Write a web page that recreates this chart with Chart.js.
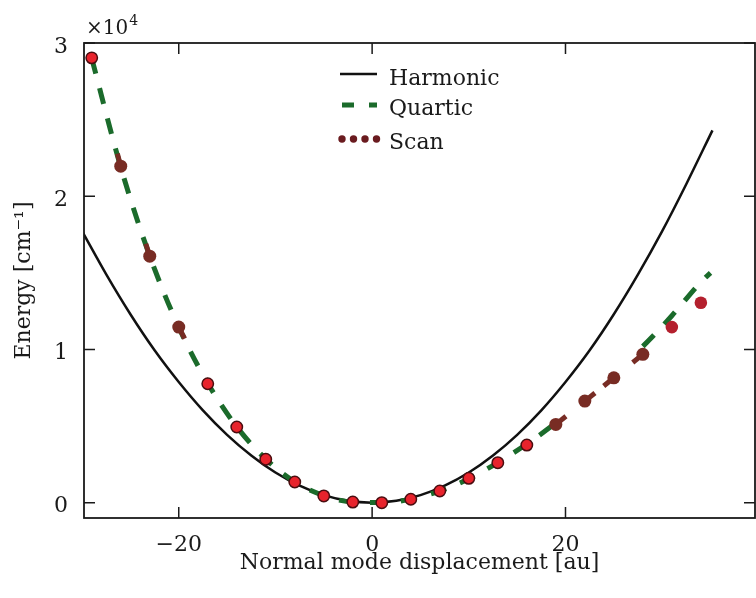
<!DOCTYPE html>
<html>
<head>
<meta charset="utf-8">
<script src="https://cdn.jsdelivr.net/npm/chart.js@4.4.1/dist/chart.umd.min.js"></script>
<style>
  html, body { margin: 0; padding: 0; background: #ffffff; overflow: hidden; }
  #wrap { width: 756px; height: 598px; }
</style>
</head>
<body>
<div id="wrap"><canvas id="c" width="756" height="598"></canvas></div>
<script>
// ---- data -------------------------------------------------------------
// harmonic potential, displacement [au] vs energy [cm^-1]
const harmonicX = [-30, -27.5, -25, -22.5, -20, -17.5, -15, -12.5, -10, -7.5, -5, -2.5, 0,
                   2.5, 5, 7.5, 10, 12.5, 15, 17.5, 20, 22.5, 25, 27.5, 30, 32.5, 35.2];
const harmonicE = [17720, 14900, 12300, 9950, 7880, 6030, 4430, 3080, 1970, 1110, 490, 120, 0,
                   120, 490, 1110, 1970, 3080, 4430, 6030, 7880, 9950, 12300, 14900, 17720, 20800, 24300];

// quartic fit
const quarticX = [-29, -26, -23, -20, -17, -14, -11, -8, -5, -2, 1, 4, 7, 10, 13, 16, 19, 22, 25, 28, 31, 34, 35];
const quarticE = [29000, 21900, 16100, 11450, 7800, 4950, 2850, 1350, 460, 40, 10, 230, 760, 1560,
                  2620, 3830, 5200, 6750, 8450, 10200, 12200, 14400, 15000];

// potential energy scan
const scanX = [-29, -26, -23, -20, -17, -14, -11, -8, -5, -2, 1, 4, 7, 10, 13, 16, 19, 22, 25, 28, 31, 34];
const scanE = [29030, 21960, 16090, 11460, 7760, 4940, 2830, 1350, 440, 40, 0, 220, 760, 1590,
               2610, 3760, 5110, 6630, 8150, 9680, 11460, 13050];

const xTickValues = [-20, 0, 20];
const yTickValues = [0, 10000, 20000, 30000];
const yTickLabels = ['0', '1', '2', '3'];

// ---- styling ----------------------------------------------------------
const FONT = 'DejaVu Serif';
const INK = '#1a1a1a';
const GREEN = '#1b6b2b';
const BROWN = '#782c24';
const MAROON = '#6a1b1f';
const NONE = 'rgba(0,0,0,0)';

// stretch of the quartic that lies under the scan strokes
const quarticHiddenFrom = 19, quarticHiddenTo = 28;

// marker look for each scan point: r = outlined red, b = brown, c = crimson
const scanMarker = ['r','b','b','b','r','r','r','r','r','r','r','r','r','r','r','r','b','b','b','b','c','c'];
// short trailing stroke on a marker: -1 toward previous point, +1 toward next, 0 none
const scanTail = [0,-1,-1,1,0,0,0,0,0,0,0,0,0,0,0,0,1,1,-1,-1,0,0];
const TAIL = 13;

const markerFill = { r: '#e8232c', b: BROWN, c: '#b4202e' };
const markerEdge = { r: '#4a0d10', b: BROWN, c: '#b4202e' };
const markerRadius = { r: 5.7, b: 6.5, c: 6.3 };
const markerEdgeW = { r: 1.5, b: 0, c: 0 };

const toXY = (xs, ys) => xs.map((x, i) => ({ x: x, y: ys[i] }));

function tailFlags(c) {
  return { s: scanTail[c.p0DataIndex] === 1, e: scanTail[c.p1DataIndex] === -1 };
}
function tailDash(c) {
  const L = Math.hypot(c.p1.x - c.p0.x, c.p1.y - c.p0.y);
  const f = tailFlags(c);
  if (f.s && f.e) return [TAIL, Math.max(L - 2 * TAIL, 0), TAIL, 2000];
  if (f.s) return [TAIL, L + 2000];
  if (f.e) return [0, Math.max(L - TAIL, 0), TAIL, 2000];
  return [0, L + 2000 + c.p0DataIndex];
}

// frame with inward ticks on all four sides
const framePlugin = {
  id: 'frame',
  afterDraw(chart) {
    const { ctx, chartArea: a, scales } = chart;
    const tl = 11;
    ctx.save();
    ctx.strokeStyle = INK;
    ctx.lineWidth = 1.5;
    ctx.beginPath();
    scales.x.ticks.forEach(t => {
      const px = scales.x.getPixelForValue(t.value);
      ctx.moveTo(px, a.bottom); ctx.lineTo(px, a.bottom - tl);
      ctx.moveTo(px, a.top); ctx.lineTo(px, a.top + tl);
    });
    scales.y.ticks.forEach(t => {
      const py = scales.y.getPixelForValue(t.value);
      ctx.moveTo(a.left, py); ctx.lineTo(a.left + tl, py);
      ctx.moveTo(a.right, py); ctx.lineTo(a.right - tl, py);
    });
    ctx.stroke();
    ctx.lineWidth = 1.8;
    ctx.strokeRect(a.left, a.top, a.right - a.left, a.bottom - a.top);

    // axis multiplier
    ctx.fillStyle = INK;
    ctx.textBaseline = 'alphabetic';
    ctx.textAlign = 'left';
    ctx.font = '20px "' + FONT + '"';
    ctx.fillText('×10', a.left + 2, 34);
    const w = ctx.measureText('×10').width;
    ctx.font = '14px "' + FONT + '"';
    ctx.fillText('4', a.left + 2 + w + 1, 25);
    ctx.restore();
  }
};

// legend in the upper middle of the plot
const legendPlugin = {
  id: 'innerLegend',
  afterDraw(chart) {
    const ctx = chart.ctx;
    const ds = chart.data.datasets;
    const byLabel = l => ds.find(d => d.label === l);
    const x0 = 340, x1 = 377, tx = 389;
    ctx.save();
    ctx.font = '22px "' + FONT + '"';
    ctx.fillStyle = INK;
    ctx.textAlign = 'left';
    ctx.textBaseline = 'alphabetic';

    const h = byLabel('Harmonic');
    ctx.strokeStyle = h.borderColor; ctx.lineWidth = h.borderWidth;
    ctx.beginPath(); ctx.moveTo(x0, 74); ctx.lineTo(x1, 74); ctx.stroke();
    ctx.fillText(h.label, tx, 85);

    const q = byLabel('Quartic');
    ctx.strokeStyle = GREEN; ctx.lineWidth = q.borderWidth;
    ctx.setLineDash(q.borderDash); ctx.lineDashOffset = 4;
    ctx.beginPath(); ctx.moveTo(x0 + 2, 105); ctx.lineTo(x1, 105); ctx.stroke();
    ctx.setLineDash([]);
    ctx.fillText(q.label, tx, 115);

    const s = byLabel('Scan');
    ctx.fillStyle = MAROON;
    for (let i = 0; i < 4; i++) {
      ctx.beginPath(); ctx.arc(342 + i * 11.5, 139, 3.7, 0, Math.PI * 2); ctx.fill();
    }
    ctx.fillStyle = INK;
    ctx.fillText(s.label, tx, 149);
    ctx.restore();
  }
};

new Chart(document.getElementById('c'), {
  type: 'line',
  data: {
    datasets: [
      {
        label: 'Scan',
        data: toXY(scanX, scanE),
        showLine: true,
        borderColor: BROWN,
        borderWidth: 5,
        borderCapStyle: 'butt',
        tension: 0,
        segment: {
          borderColor: c => (tailFlags(c).s || tailFlags(c).e) ? BROWN : NONE,
          borderDash: c => tailDash(c)
        },
        pointStyle: 'circle',
        pointRadius: scanMarker.map(k => markerRadius[k]),
        pointBackgroundColor: scanMarker.map(k => markerFill[k]),
        pointBorderColor: scanMarker.map(k => markerEdge[k]),
        pointBorderWidth: scanMarker.map(k => markerEdgeW[k]),
        order: 0
      },
      {
        label: 'Quartic',
        data: toXY(quarticX, quarticE),
        borderColor: GREEN,
        borderWidth: 5,
        borderDash: [16, 15],
        borderCapStyle: 'butt',
        cubicInterpolationMode: 'monotone',
        segment: {
          borderColor: c => (quarticX[c.p0DataIndex] >= quarticHiddenFrom &&
                             quarticX[c.p1DataIndex] <= quarticHiddenTo) ? NONE : GREEN
        },
        pointRadius: 0,
        order: 1
      },
      {
        label: 'Harmonic',
        data: toXY(harmonicX, harmonicE),
        borderColor: '#111111',
        borderWidth: 2.5,
        cubicInterpolationMode: 'monotone',
        pointRadius: 0,
        order: 2
      }
    ]
  },
  options: {
    responsive: false,
    animation: false,
    devicePixelRatio: 1,
    layout: { autoPadding: false, padding: { top: 43, right: 1, left: 0, bottom: 0 } },
    plugins: { legend: { display: false }, tooltip: { enabled: false } },
    scales: {
      x: {
        type: 'linear',
        min: -29.8,
        max: 39.6,
        afterBuildTicks: s => { s.ticks = xTickValues.map(v => ({ value: v })); },
        afterFit: s => { s.height = 80; s.paddingLeft = 0; s.paddingRight = 0; },
        grid: { display: false, drawTicks: false },
        border: { display: false },
        ticks: {
          color: INK,
          font: { family: FONT, size: 22 },
          padding: 14,
          maxRotation: 0,
          callback: v => (v < 0 ? '\u2212' + Math.abs(v) : String(v))
        },
        title: {
          display: true,
          text: 'Normal mode displacement [au]',
          color: INK,
          font: { family: FONT, size: 22 },
          padding: { top: 0, bottom: 22 }
        }
      },
      y: {
        type: 'linear',
        min: -1000,
        max: 30000,
        afterBuildTicks: s => { s.ticks = yTickValues.map(v => ({ value: v })); },
        afterFit: s => { s.width = 84; },
        grid: { display: false, drawTicks: false },
        border: { display: false },
        ticks: {
          color: INK,
          font: { family: FONT, size: 22 },
          padding: 16,
          labelOffset: 4,
          callback: v => yTickLabels[yTickValues.indexOf(v)]
        },
        title: {
          display: true,
          text: 'Energy [cm\u207B\u00B9]',
          color: INK,
          font: { family: FONT, size: 22 },
          padding: { top: 11, bottom: 0 }
        }
      }
    }
  },
  plugins: [framePlugin, legendPlugin]
});
</script>
</body>
</html>
